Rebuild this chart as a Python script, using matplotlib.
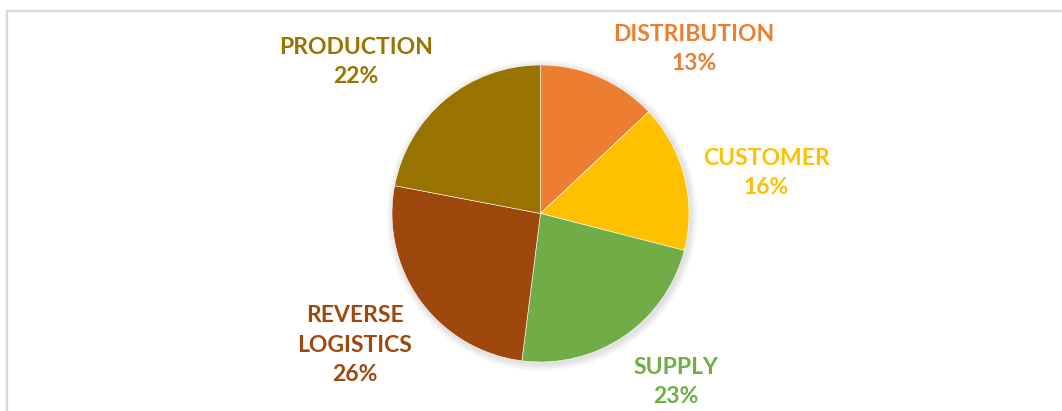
import matplotlib.pyplot as plt
from matplotlib.patches import Rectangle, Circle

# ── Data ───────────────────────────────────────────────────────────────────────
categories = ["DISTRIBUTION", "CUSTOMER", "SUPPLY", "REVERSE\nLOGISTICS", "PRODUCTION"]
shares     = [13, 16, 23, 26, 22]
colors     = ["#ED7D31", "#FFC000", "#70AD47", "#9E480E", "#997300"]

# ── Layout (pixel coordinates, origin top-left) ────────────────────────────────
W, H = 1062, 411
CENTER = (540.5, 213.5)
RADIUS = 148.5
label_pos = [(694, 49), (766, 173), (676, 382), (355, 345), (356, 62)]

fig = plt.figure(figsize=(W / 100, H / 100), dpi=100)
ax = fig.add_axes([0, 0, 1, 1])

cx, cy = CENTER[0], H - CENTER[1]

# soft shadow under the pie
for i in range(6):
    ax.add_patch(Circle((cx + 1.5, cy - 2), RADIUS + 1 + i * 1.2,
                        color="black", alpha=0.018, lw=0, zorder=0))

ax.pie(shares, colors=colors, startangle=90, counterclock=False,
       center=(cx, cy), radius=RADIUS,
       wedgeprops=dict(linewidth=0.4, edgecolor="white"))

for name, val, col, (px, py) in zip(categories, shares, colors, label_pos):
    ax.text(px, H - py, f"{name}\n{val}%", color=col, ha="center", va="center",
            fontsize=16.5, fontweight="bold", family="Lato", linespacing=1.5)

# chart-area border (cropped on right and bottom)
ax.add_patch(Rectangle((7, -10), W + 20, H - 11 + 10, fill=False,
                       edgecolor="#D9D9D9", lw=1.6, zorder=5))

ax.set_xlim(0, W)
ax.set_ylim(0, H)
ax.set_aspect("equal")
ax.axis("off")

fig.savefig("out.png", dpi=100)
